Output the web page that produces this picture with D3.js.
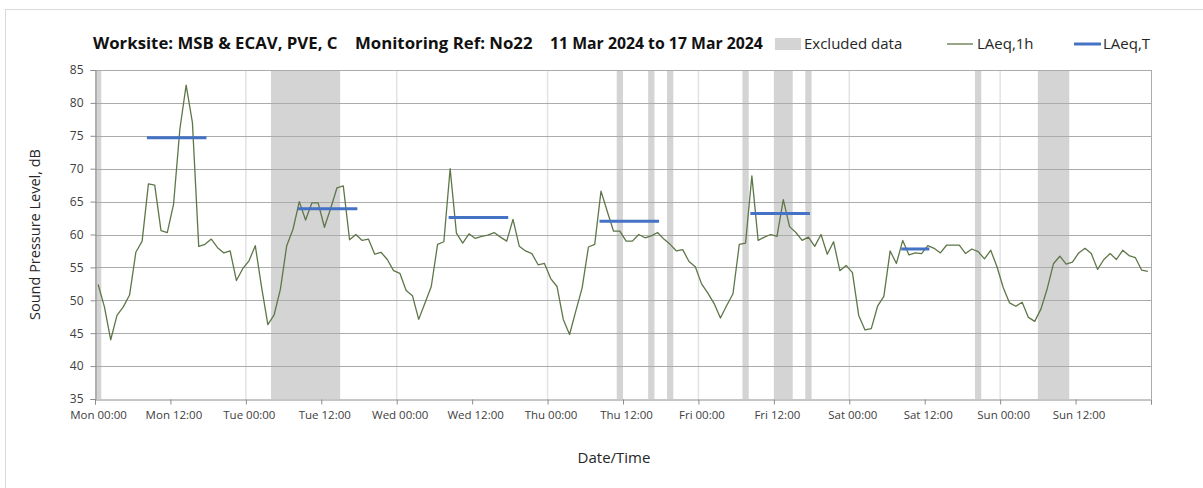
<!DOCTYPE html>
<html>
<head>
<meta charset="utf-8">
<script src="https://cdn.jsdelivr.net/npm/d3@7"></script>
<style>
  html, body { margin: 0; padding: 0; background: #fff; }
  svg { display: block; font-family: "Open Sans", "Noto Sans", sans-serif; }
</style>
</head>
<body>
<svg id="chart" width="1203" height="488"></svg>
<script>
// ---- Data ----
const titleParts = ["Worksite: MSB & ECAV, PVE, C", "Monitoring Ref: No22", "11 Mar 2024 to 17 Mar 2024"];
const xTickLabels = ["Mon 00:00", "Mon 12:00", "Tue 00:00", "Tue 12:00", "Wed 00:00", "Wed 12:00",
  "Thu 00:00", "Thu 12:00", "Fri 00:00", "Fri 12:00", "Sat 00:00", "Sat 12:00", "Sun 00:00", "Sun 12:00"];
const yTicks = [35, 40, 45, 50, 55, 60, 65, 70, 75, 80, 85];

// Hourly LAeq,1h values (one per hour, Mon 00:00 .. Sun 23:00)
const laeq1h = [
  52.4, 49.0, 44.0, 47.7, 49.0, 50.8, 57.3, 59.0, 67.7, 67.5, 60.6, 60.3, 64.6, 76.0, 82.7, 77.0,
  58.2, 58.5, 59.3, 58.0, 57.2, 57.5, 53.0, 54.8,
  56.0, 58.3, 52.0, 46.3, 47.8, 51.7, 58.3, 60.8, 65.0, 62.2, 64.8, 64.8, 61.1, 64.0, 67.1, 67.4,
  59.2, 60.0, 59.1, 59.3, 57.0, 57.3, 56.2, 54.5,
  54.1, 51.5, 50.7, 47.1, 49.6, 52.1, 58.5, 58.9, 70.0, 60.2, 58.7, 60.1, 59.4, 59.7, 59.9, 60.3,
  59.6, 59.0, 62.3, 58.2, 57.5, 57.1, 55.4, 55.6,
  53.3, 52.1, 47.1, 44.8, 48.4, 51.9, 58.1, 58.5, 66.6, 63.5, 60.5, 60.5, 59.0, 59.0, 60.0, 59.5,
  59.8, 60.3, 59.3, 58.5, 57.5, 57.7, 55.9, 55.1,
  52.5, 51.1, 49.5, 47.3, 49.2, 51.0, 58.5, 58.7, 68.9, 59.1, 59.6, 60.0, 59.7, 65.3, 61.2, 60.3,
  59.1, 59.6, 58.2, 60.0, 57.0, 58.9, 54.5, 55.3,
  54.2, 47.7, 45.5, 45.7, 49.1, 50.6, 57.5, 55.6, 59.1, 56.9, 57.2, 57.1, 58.3, 57.9, 57.2, 58.4,
  58.4, 58.4, 57.1, 57.8, 57.4, 56.3, 57.6, 55.1,
  51.9, 49.6, 49.1, 49.7, 47.4, 46.8, 48.7, 51.8, 55.6, 56.7, 55.5, 55.8, 57.2, 57.9, 57.1, 54.7,
  56.2, 57.1, 56.2, 57.6, 56.8, 56.5, 54.6, 54.4
];

// LAeq,T daytime periods (hours from Mon 00:00) and values
const ltStart = [8.5, 32.5, 56.5, 80.5, 104.5, 128.5];
const ltEnd   = [17.5, 41.5, 65.5, 89.5, 113.5, 132.5];
const ltValue = [74.7, 63.9, 62.6, 62.0, 63.2, 57.8];

// Excluded data periods (hours from Mon 00:00)
const exclStart = [0, 28, 83, 88, 91, 103, 108, 113, 140, 150];
const exclEnd   = [1, 39, 84, 89, 92, 104, 111, 114, 141, 155];

// ---- Chart ----
const svg = d3.select("#chart");
const pLeft = 95, pRight = 1151, pTop = 70, pBottom = 399;
const x = d3.scaleLinear().domain([0, 168]).range([pLeft, pRight]);
const y = d3.scaleLinear().domain([35, 85]).range([pBottom, pTop]);

// outer chart border (only left/top visible)
svg.append("rect").attr("x", 5.5).attr("y", 9.5).attr("width", 1400).attr("height", 600)
  .attr("fill", "none").attr("stroke", "#d9d9d9").attr("stroke-width", 1);

// excluded bands
const bands = exclStart.map((s, i) => ({ s, e: exclEnd[i] }));
svg.append("g").selectAll("rect").data(bands).join("rect")
  .attr("x", d => x(d.s)).attr("width", d => x(d.e) - x(d.s))
  .attr("y", pTop).attr("height", pBottom - pTop)
  .attr("fill", "#d4d4d4");

// vertical day gridlines
const dayHours = d3.range(24, 168, 24);
svg.append("g").selectAll("line").data(dayHours).join("line")
  .attr("x1", d => x(d)).attr("x2", d => x(d))
  .attr("y1", pTop).attr("y2", pBottom)
  .attr("stroke", "#e3e3e3").attr("stroke-width", 1.5);

// horizontal gridlines
svg.append("g").selectAll("line").data(yTicks.filter(v => v > 35)).join("line")
  .attr("x1", pLeft).attr("x2", pRight)
  .attr("y1", d => Math.round(y(d)) + 0.5).attr("y2", d => Math.round(y(d)) + 0.5)
  .attr("stroke", "#ababab").attr("stroke-width", 1);

// right border
svg.append("line").attr("x1", pRight + 0.5).attr("x2", pRight + 0.5).attr("y1", pTop).attr("y2", pBottom)
  .attr("stroke", "#ababab");

// y axis
const yAxis = d3.axisLeft(y).tickValues(yTicks).tickSize(5).tickPadding(7).tickFormat(d3.format("d"));
const gy = svg.append("g").attr("transform", `translate(${pLeft + 0.5},0)`).call(yAxis);
gy.select(".domain").attr("stroke", "#8c8c8c");
gy.selectAll(".tick line").attr("stroke", "#8c8c8c");
gy.selectAll(".tick text").attr("fill", "#404040").attr("font-size", "12px")
  .attr("font-family", "'Open Sans', sans-serif");

// x axis
const xTickHours = xTickLabels.map((_, i) => i * 12);
const xAxis = d3.axisBottom(x).tickValues(xTickHours.concat([168])).tickSize(5).tickPadding(6)
  .tickFormat((d, i) => xTickLabels[i] || "");
const gx = svg.append("g").attr("transform", `translate(0,${pBottom + 0.5})`).call(xAxis);
gx.select(".domain").attr("stroke", "#8c8c8c");
gx.selectAll(".tick line").attr("stroke", "#8c8c8c");
gx.selectAll(".tick text").attr("fill", "#404040").attr("font-size", "11.5px")
  .attr("font-family", "'Open Sans', sans-serif").attr("dx", "3");

// LAeq,1h line
const line = d3.line().x((d, i) => x(i + 0.5)).y(d => y(d));
svg.append("path").datum(laeq1h).attr("d", line)
  .attr("fill", "none").attr("stroke", "#5f7648").attr("stroke-width", 1.3)
  .attr("stroke-linejoin", "round");

// LAeq,T segments
const lt = ltStart.map((s, i) => ({ s, e: ltEnd[i], v: ltValue[i] }));
svg.append("g").selectAll("line").data(lt).join("line")
  .attr("x1", d => x(d.s)).attr("x2", d => x(d.e))
  .attr("y1", d => y(d.v)).attr("y2", d => y(d.v))
  .attr("stroke", "#4472c4").attr("stroke-width", 3).attr("stroke-linecap", "square");

// title
const titleX = [93, 355, 550];
const titleSize = ["16.8px", "16.8px", "15.8px"];
svg.append("g").selectAll("text").data(titleParts).join("text")
  .attr("x", (d, i) => titleX[i]).attr("y", 49)
  .attr("font-size", (d, i) => titleSize[i]).attr("font-weight", "bold").attr("fill", "#111")
  .text(d => d);

// legend
const lg = svg.append("g").attr("font-size", "15px").attr("fill", "#262626");
lg.append("rect").attr("x", 775).attr("y", 38).attr("width", 26).attr("height", 12).attr("fill", "#d4d4d4");
lg.append("text").attr("x", 804).attr("y", 49).text("Excluded data");
lg.append("line").attr("x1", 947).attr("x2", 973).attr("y1", 44).attr("y2", 44)
  .attr("stroke", "#5f7648").attr("stroke-width", 1.3);
lg.append("text").attr("x", 977).attr("y", 49).text("LAeq,1h");
lg.append("line").attr("x1", 1074).attr("x2", 1101).attr("y1", 44).attr("y2", 44)
  .attr("stroke", "#4472c4").attr("stroke-width", 3);
lg.append("text").attr("x", 1103).attr("y", 49).text("LAeq,T");

// axis titles
svg.append("text").attr("transform", `translate(40,${(pTop + pBottom) / 2}) rotate(-90)`)
  .attr("text-anchor", "middle").attr("font-size", "14.5px").attr("fill", "#262626")
  .text("Sound Pressure Level, dB");
svg.append("text").attr("x", 614).attr("y", 463).attr("text-anchor", "middle")
  .attr("font-size", "15px").attr("fill", "#262626").text("Date/Time");
</script>
</body>
</html>
